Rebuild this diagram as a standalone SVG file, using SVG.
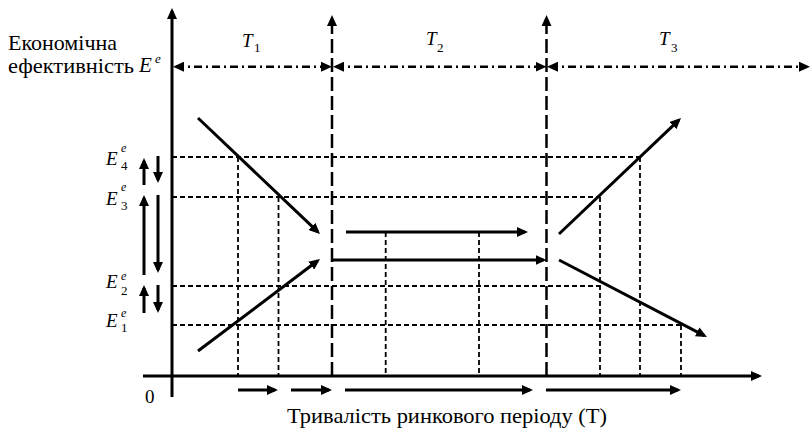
<svg xmlns="http://www.w3.org/2000/svg" width="811" height="432" viewBox="0 0 811 432">
<style>
.arr{stroke:#000;stroke-width:3;fill:none;marker-end:url(#ah)}
.grid{stroke:#000;stroke-width:1.8;stroke-dasharray:5 3;fill:none}
.long{stroke:#000;stroke-width:2.5;stroke-dasharray:14 5;fill:none}
.dd{stroke:#000;stroke-width:2.5;stroke-dasharray:8 4 2 4;fill:none;marker-start:url(#ah);marker-end:url(#ah)}
text{font-family:'Liberation Serif','Times New Roman','DejaVu Serif',serif;fill:#000}
.i{font-style:italic}
</style>
<defs>
<marker id="ah" viewBox="0 0 11 10" refX="8" refY="5" markerWidth="11" markerHeight="10" markerUnits="userSpaceOnUse" orient="auto-start-reverse"><path d="M0,0 L11,5 L0,10 z" fill="#000"/></marker>
</defs>
<rect width="811" height="432" fill="#fff"/>

<g id="grid">
<line class="grid" x1="172" y1="157" x2="640" y2="157"/>
<line class="grid" x1="172" y1="197" x2="600" y2="197"/>
<line class="grid" x1="172" y1="286" x2="600" y2="286"/>
<line class="grid" x1="172" y1="325" x2="681" y2="325"/>
<line class="grid" x1="238" y1="157" x2="238" y2="376"/>
<line class="grid" x1="278.5" y1="197" x2="278.5" y2="376"/>
<line class="grid" x1="385.7" y1="232" x2="385.7" y2="376"/>
<line class="grid" x1="479" y1="232" x2="479" y2="376"/>
<line class="grid" x1="600" y1="197" x2="600" y2="376"/>
<line class="grid" x1="640" y1="157" x2="640" y2="376"/>
<line class="grid" x1="681" y1="325" x2="681" y2="376"/>
</g>

<g id="periods">
<line class="long" x1="332" y1="376" x2="332" y2="18" marker-end="url(#ah)"/>
<line class="long" x1="546.5" y1="376" x2="546.5" y2="18" marker-end="url(#ah)"/>
<line class="dd" x1="176" y1="66.7" x2="329" y2="66.7"/>
<line class="dd" x1="336" y1="66.7" x2="543.5" y2="66.7"/>
<line class="dd" x1="550" y1="66.7" x2="807" y2="66.7"/>
</g>

<g id="axes">
<line class="arr" x1="172" y1="397" x2="172" y2="11"/>
<line class="arr" x1="143" y1="376" x2="759" y2="376"/>
</g>

<g id="connectors">
<line class="arr" x1="198" y1="118" x2="317.8" y2="231.9"/>
<line class="arr" x1="198" y1="351" x2="317.6" y2="260.8"/>
<line class="arr" x1="346" y1="232" x2="525" y2="232"/>
<line class="arr" x1="332" y1="260" x2="543.5" y2="260"/>
<line class="arr" x1="559" y1="234" x2="678.8" y2="120.1"/>
<line class="arr" x1="559" y1="260" x2="704.3" y2="335.6"/>
<line class="arr" x1="144" y1="185" x2="144" y2="161"/>
<line class="arr" x1="158" y1="156" x2="158" y2="180"/>
<line class="arr" x1="144" y1="275" x2="144" y2="198"/>
<line class="arr" x1="158" y1="195" x2="158" y2="270"/>
<line class="arr" x1="144" y1="313" x2="144" y2="288"/>
<line class="arr" x1="158" y1="285" x2="158" y2="310"/>
<line class="arr" x1="238" y1="390" x2="275" y2="390"/>
<line class="arr" x1="291" y1="390" x2="329" y2="390"/>
<line class="arr" x1="345" y1="390" x2="530" y2="390"/>
<line class="arr" x1="546" y1="390" x2="678" y2="390"/>
</g>

<g id="ylabel">
<text x="8" y="50" font-size="22">Економічна</text>
<text x="8" y="73" font-size="22" textLength="126" lengthAdjust="spacingAndGlyphs">ефективність</text>
<text class="i" x="139" y="72" font-size="21">E</text>
<text class="i" x="155" y="63" font-size="13">e</text>
</g>

<g id="E4"><text class="i" x="106" y="165" font-size="19">E</text><text class="i" x="121" y="152" font-size="12">e</text><text x="121" y="170" font-size="13">4</text></g>
<g id="E3"><text class="i" x="106" y="205" font-size="19">E</text><text class="i" x="121" y="191" font-size="12">e</text><text x="121" y="210" font-size="13">3</text></g>
<g id="E2"><text class="i" x="106" y="288" font-size="19">E</text><text class="i" x="121" y="280" font-size="12">e</text><text x="121" y="295" font-size="13">2</text></g>
<g id="E1"><text class="i" x="106" y="327" font-size="19">E</text><text class="i" x="121" y="317" font-size="12">e</text><text x="121" y="332" font-size="13">1</text></g>

<g id="T1"><text class="i" x="242" y="47" font-size="19">T</text><text x="254" y="52" font-size="13">1</text></g>
<g id="T2"><text class="i" x="426" y="45" font-size="19">T</text><text x="437" y="52" font-size="13">2</text></g>
<g id="T3"><text class="i" x="659" y="45" font-size="19">T</text><text x="671" y="52" font-size="13">3</text></g>

<g id="origin"><text x="145" y="403" font-size="19">0</text></g>
<g id="xlabel"><text x="287" y="423" font-size="21" textLength="320" lengthAdjust="spacingAndGlyphs">Тривалість ринкового періоду (Т)</text></g>
</svg>
